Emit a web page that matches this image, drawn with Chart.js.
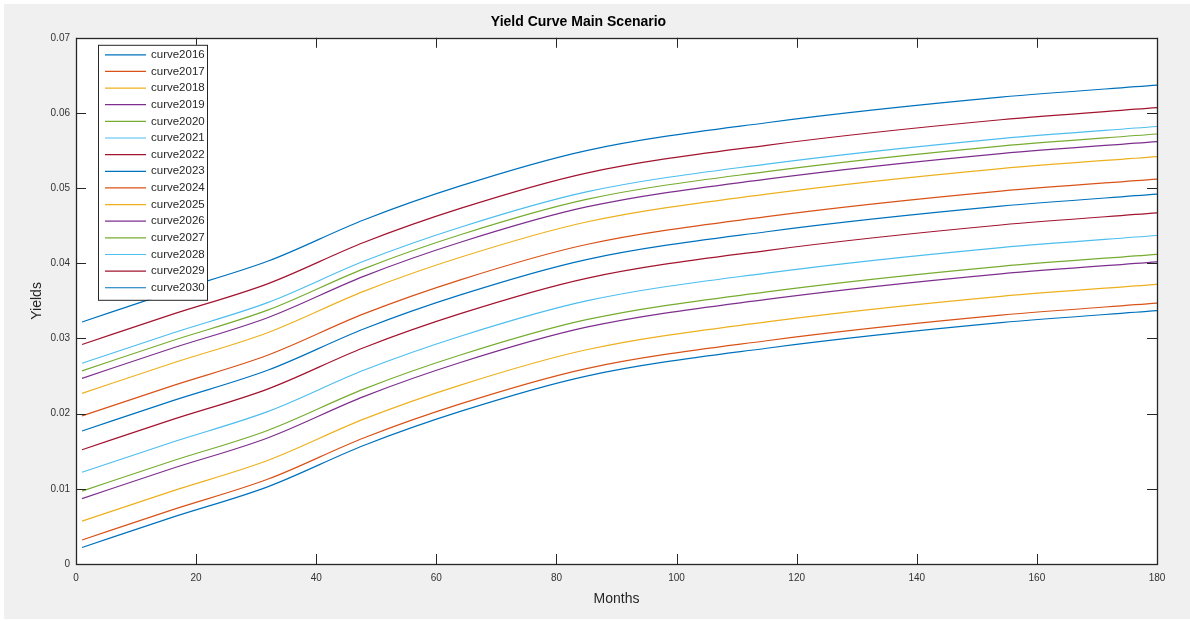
<!DOCTYPE html>
<html>
<head>
<meta charset="utf-8">
<title>Yield Curve Main Scenario</title>
<script src="https://cdn.jsdelivr.net/npm/chart.js@4.4.0/dist/chart.umd.min.js"></script>
<style>
    html, body { margin: 0; padding: 0; background: #ffffff; }
    #wrap { width: 1190px; height: 621px; }
</style>
</head>
<body>
<div id="wrap"><canvas id="yieldChart" width="1190" height="621"></canvas></div>
<script>
var months = [1, 16, 32, 48, 64, 85, 115, 154, 180];

var curve2016 = [0.0022, 0.0062, 0.0103, 0.0158, 0.0203, 0.0250, 0.0287, 0.0321, 0.0337];
var curve2017 = [0.0032, 0.0072, 0.0113, 0.0168, 0.0213, 0.0260, 0.0297, 0.0331, 0.0347];
var curve2018 = [0.0057, 0.0097, 0.0138, 0.0193, 0.0238, 0.0285, 0.0322, 0.0356, 0.0372];
var curve2019 = [0.0087, 0.0127, 0.0168, 0.0223, 0.0268, 0.0315, 0.0352, 0.0386, 0.0402];
var curve2020 = [0.0097, 0.0137, 0.0178, 0.0233, 0.0278, 0.0325, 0.0362, 0.0396, 0.0412];
var curve2021 = [0.0122, 0.0162, 0.0203, 0.0258, 0.0303, 0.0350, 0.0387, 0.0421, 0.0437];
var curve2022 = [0.0152, 0.0192, 0.0233, 0.0288, 0.0333, 0.0380, 0.0417, 0.0451, 0.0467];
var curve2023 = [0.0177, 0.0217, 0.0258, 0.0313, 0.0358, 0.0405, 0.0442, 0.0476, 0.0492];
var curve2024 = [0.0197, 0.0237, 0.0278, 0.0333, 0.0378, 0.0425, 0.0462, 0.0496, 0.0512];
var curve2025 = [0.0227, 0.0267, 0.0308, 0.0363, 0.0408, 0.0455, 0.0492, 0.0526, 0.0542];
var curve2026 = [0.0247, 0.0287, 0.0328, 0.0383, 0.0428, 0.0475, 0.0512, 0.0546, 0.0562];
var curve2027 = [0.0257, 0.0297, 0.0338, 0.0393, 0.0438, 0.0485, 0.0522, 0.0556, 0.0572];
var curve2028 = [0.0267, 0.0307, 0.0348, 0.0403, 0.0448, 0.0495, 0.0532, 0.0566, 0.0582];
var curve2029 = [0.0292, 0.0332, 0.0373, 0.0428, 0.0473, 0.0520, 0.0557, 0.0591, 0.0607];
var curve2030 = [0.0322, 0.0362, 0.0403, 0.0458, 0.0503, 0.0550, 0.0587, 0.0621, 0.0637];

var curveNames = ["curve2016", "curve2017", "curve2018", "curve2019", "curve2020",
    "curve2021", "curve2022", "curve2023", "curve2024", "curve2025",
    "curve2026", "curve2027", "curve2028", "curve2029", "curve2030"];
var curveValues = [curve2016, curve2017, curve2018, curve2019, curve2020,
    curve2021, curve2022, curve2023, curve2024, curve2025,
    curve2026, curve2027, curve2028, curve2029, curve2030];

var xTicks = [0, 20, 40, 60, 80, 100, 120, 140, 160, 180];
var yTicks = [0, 0.01, 0.02, 0.03, 0.04, 0.05, 0.06, 0.07];

// matlab default line order, it just cycles
var lineColors = ["#0072BD", "#D95319", "#EDB120", "#7E2F8E", "#77AC30", "#4DBEEE", "#A2142F"];

var axisColor = "#262626";
var fontFamily = "'Liberation Sans', Arial, sans-serif";

function toPoints(vals) {
    var pts = [];
    for (var i = 0; i < vals.length; i++) {
        pts.push({ x: months[i], y: vals[i] });
    }
    return pts;
}

var datasets = curveNames.map(function(name, i) {
    return {
        label: name,
        data: toPoints(curveValues[i]),
        borderColor: lineColors[i % lineColors.length],
        backgroundColor: lineColors[i % lineColors.length],
        borderWidth: 1.2,
        pointRadius: 0,
        fill: false,
        cubicInterpolationMode: 'monotone'
    };
});

// grey figure + white axes + box + inward ticks + legend box (matlab look)
var matlabLook = {
    id: 'matlabLook',
    beforeDraw: function(chart) {
        var ctx = chart.ctx;
        var a = chart.chartArea;
        ctx.save();
        ctx.fillStyle = "#ffffff";
        ctx.fillRect(0, 0, chart.width, chart.height);
        ctx.fillStyle = "#f0f0f0";
        ctx.fillRect(4, 4, chart.width - 4, chart.height - 6);
        ctx.fillStyle = "#ffffff";
        ctx.fillRect(a.left, a.top, a.right - a.left, a.bottom - a.top);
        ctx.restore();
    },
    afterDraw: function(chart) {
        var ctx = chart.ctx;
        var a = chart.chartArea;
        var xs = chart.scales.x;
        var ys = chart.scales.y;
        var tick = 10;
        ctx.save();
        ctx.strokeStyle = axisColor;
        ctx.lineWidth = 1;
        ctx.beginPath();
        xTicks.forEach(function(v) {
            var px = Math.round(xs.getPixelForValue(v)) + 0.5;
            ctx.moveTo(px, a.bottom);
            ctx.lineTo(px, a.bottom - tick);
            ctx.moveTo(px, a.top);
            ctx.lineTo(px, a.top + tick);
        });
        yTicks.forEach(function(v) {
            var py = Math.round(ys.getPixelForValue(v)) + 0.5;
            ctx.moveTo(a.left, py);
            ctx.lineTo(a.left + tick, py);
            ctx.moveTo(a.right, py);
            ctx.lineTo(a.right - tick, py);
        });
        ctx.stroke();
        ctx.lineWidth = 1.3;
        ctx.strokeRect(Math.round(a.left) + 0.5, Math.round(a.top) + 0.5,
            Math.round(a.right - a.left), Math.round(a.bottom - a.top));

        // legend box, top left inside the axes
        var lx = a.left + 22, ly = a.top + 7, lw = 109, lh = 255;
        var rowH = 16.64;
        ctx.fillStyle = "#ffffff";
        ctx.fillRect(lx, ly, lw, lh);
        ctx.strokeStyle = "#262626";
        ctx.lineWidth = 1;
        ctx.strokeRect(lx + 0.5, ly + 0.5, lw, lh);
        ctx.font = "11.5px " + fontFamily;
        ctx.textBaseline = "middle";
        ctx.textAlign = "left";
        chart.data.datasets.forEach(function(ds, i) {
            var ry = ly + 10 + i * rowH;
            ctx.strokeStyle = ds.borderColor;
            ctx.lineWidth = 1.2;
            ctx.beginPath();
            ctx.moveTo(lx + 7, ry);
            ctx.lineTo(lx + 48, ry);
            ctx.stroke();
            ctx.fillStyle = "#262626";
            ctx.fillText(ds.label, lx + 53, ry);
        });
        ctx.restore();
    }
};

var ctx = document.getElementById('yieldChart');
var yieldChart = new Chart(ctx, {
    type: 'line',
    data: { datasets: datasets },
    options: {
        responsive: false,
        animation: false,
        layout: { padding: { left: 0, right: 33, top: 0, bottom: 0 } },
        plugins: {
            legend: { display: false },
            tooltip: { enabled: false },
            title: {
                display: true,
                text: 'Yield Curve Main Scenario',
                color: '#000000',
                font: { family: fontFamily, size: 14, weight: 'bold' },
                padding: { top: 14, bottom: 7 }
            }
        },
        scales: {
            x: {
                type: 'linear',
                min: 0,
                max: 180,
                afterBuildTicks: function(scale) {
                    scale.ticks = xTicks.map(function(v) { return { value: v }; });
                },
                afterFit: function(scale) { scale.height = 57; },
                grid: { display: false, drawTicks: false },
                border: { display: false },
                ticks: {
                    padding: 8,
                    maxRotation: 0,
                    color: '#333333',
                    font: { family: fontFamily, size: 10 }
                },
                title: {
                    display: true,
                    text: 'Months',
                    color: '#262626',
                    font: { family: fontFamily, size: 14 },
                    padding: { top: 0, bottom: 13 }
                }
            },
            y: {
                min: 0,
                max: 0.07,
                afterBuildTicks: function(scale) {
                    scale.ticks = yTicks.map(function(v) { return { value: v }; });
                },
                afterFit: function(scale) { scale.width = 76; },
                grid: { display: false, drawTicks: false },
                border: { display: false },
                ticks: {
                    padding: 6,
                    color: '#333333',
                    font: { family: fontFamily, size: 10 },
                    callback: function(v) { return v === 0 ? '0' : v.toFixed(2); }
                },
                title: {
                    display: true,
                    text: 'Yields',
                    color: '#262626',
                    font: { family: fontFamily, size: 14 },
                    padding: { top: 29, bottom: 0 }
                }
            }
        }
    },
    plugins: [matlabLook]
});
</script>
</body>
</html>
